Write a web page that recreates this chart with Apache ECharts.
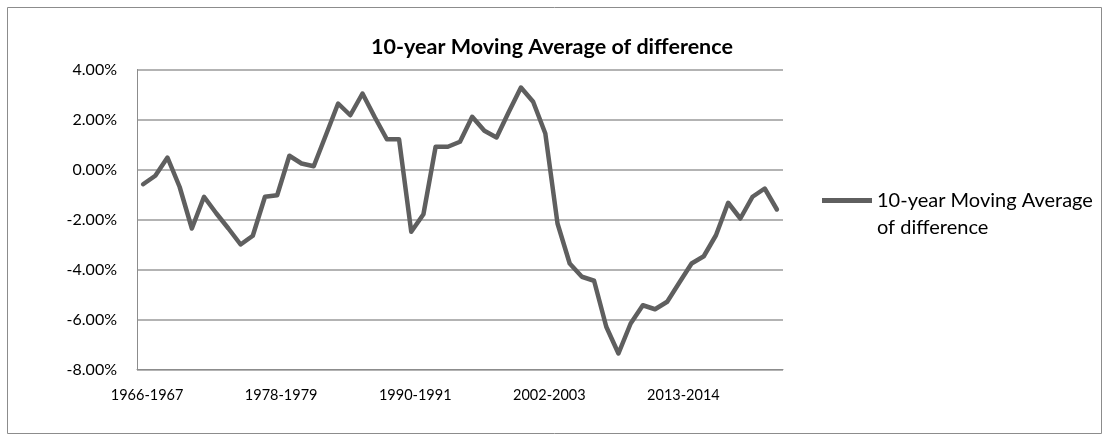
<!DOCTYPE html>
<html>
<head>
<meta charset="utf-8">
<script src="https://cdn.jsdelivr.net/npm/echarts@6/dist/echarts.min.js"></script>
<style>
  html, body { margin: 0; padding: 0; background: #fff; }
  #chart { width: 1104px; height: 442px; }
</style>
</head>
<body>
<div id="chart"></div>
<script>
// x categories (every 11th one is labelled, like the Excel axis)
const years = [
  '1966-1967', '1967-1968', '1968-1969', '1969-1970', '1970-1971', '1971-1972',
  '1972-1973', '1973-1974', '1974-1975', '1975-1976', '1976-1977',
  '1978-1979', '1979-1980', '1980-1981', '1981-1982', '1982-1983', '1983-1984',
  '1984-1985', '1985-1986', '1986-1987', '1987-1988', '1988-1989',
  '1990-1991', '1991-1992', '1992-1993', '1993-1994', '1994-1995', '1995-1996',
  '1996-1997', '1997-1998', '1998-1999', '1999-2000', '2000-2001',
  '2002-2003', '2003-2004', '2004-2005', '2005-2006', '2006-2007', '2007-2008',
  '2008-2009', '2009-2010', '2010-2011', '2011-2012', '2012-2013',
  '2013-2014', '2014-2015', '2015-2016', '2016-2017', '2017-2018', '2018-2019',
  '2019-2020', '2020-2021', '2021-2022'
]

// 10-year moving average of difference, in %
const movingAvg = [
  -0.59, -0.25, 0.48, -0.70, -2.36, -1.09, -1.75, -2.36, -3.00, -2.65,
  -1.09, -1.03, 0.55, 0.24, 0.13, 1.38, 2.64, 2.17, 3.04, 2.10,
  1.21, 1.21, -2.49, -1.79, 0.91, 0.91, 1.11, 2.11, 1.55, 1.28,
  2.30, 3.28, 2.71, 1.44, -2.16, -3.76, -4.29, -4.45, -6.29, -7.36,
  -6.16, -5.43, -5.59, -5.29, -4.52, -3.76, -3.47, -2.63, -1.33, -1.96,
  -1.09, -0.76, -1.60
]

const seriesName = '10-year Moving Average of difference'
const yMin = -8
const yMax = 4
const yStep = 2

const FONT = 'Lato, "Open Sans", sans-serif'
const LINE_COLOR = '#5f5f5f'

const chart = echarts.init(document.getElementById('chart'), null, { renderer: 'canvas' })

chart.setOption({
  animation: false,
  backgroundColor: '#fff',
  graphic: [
    {
      type: 'rect',
      shape: { x: 7.5, y: 7.5, width: 1094, height: 426 },
      style: { fill: 'none', stroke: '#8c8c8c', lineWidth: 1 }
    }
  ],
  title: {
    text: seriesName,
    left: 'center',
    top: 31,
    textStyle: { fontFamily: FONT, fontSize: 21.5, fontWeight: 'bold', color: '#000' }
  },
  legend: {
    left: 822,
    top: 160,
    padding: 0,
    itemWidth: 50,
    itemHeight: 5,
    icon: 'rect',
    itemStyle: { color: LINE_COLOR },
    // empty first line so the marker sits beside the first text line
    formatter: () => '\n10-year Moving Average\nof difference',
    textStyle: {
      fontFamily: FONT,
      fontSize: 20,
      color: '#000',
      lineHeight: 27
    }
  },
  grid: {
    left: 137,
    right: 321,
    top: 69.5,
    bottom: 72.5,
    containLabel: false
  },
  xAxis: {
    type: 'category',
    data: years,
    boundaryGap: true,
    axisLine: { onZero: false, lineStyle: { color: '#8c8c8c', width: 1 } },
    axisTick: { show: false },
    axisLabel: {
      interval: 10,
      margin: 18,
      padding: [0, 0, 0, 8],
      fontFamily: FONT,
      fontSize: 14.5,
      color: '#000'
    },
    splitLine: { show: false }
  },
  yAxis: {
    type: 'value',
    min: yMin,
    max: yMax,
    interval: yStep,
    axisLine: { show: true, lineStyle: { color: '#8c8c8c', width: 1 } },
    axisTick: { show: false },
    axisLabel: {
      margin: 20,
      fontFamily: FONT,
      fontSize: 16,
      color: '#000',
      formatter: v => v.toFixed(2) + '%'
    },
    splitLine: { lineStyle: { color: '#9a9a9a', width: 1.5 } }
  },
  series: [
    {
      name: seriesName,
      type: 'line',
      data: movingAvg,
      showSymbol: false,
      symbol: 'none',
      lineStyle: { color: LINE_COLOR, width: 4.5, join: 'round', cap: 'round' },
      itemStyle: { color: LINE_COLOR }
    }
  ]
})
</script>
</body>
</html>
